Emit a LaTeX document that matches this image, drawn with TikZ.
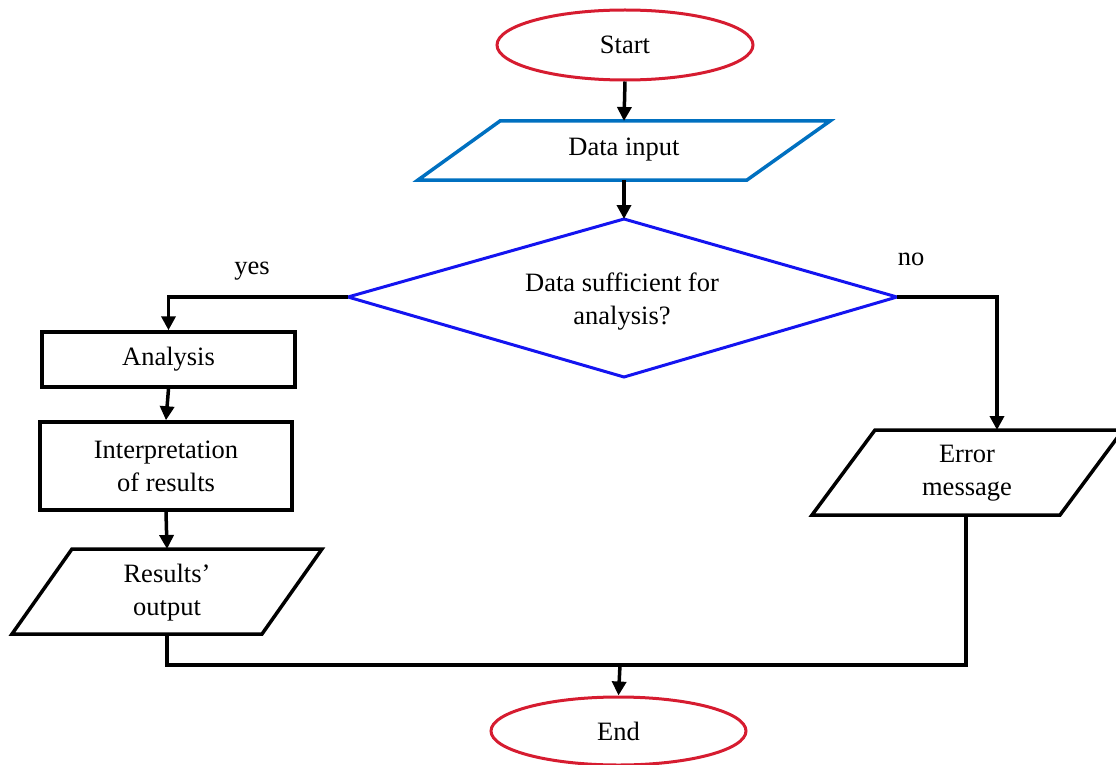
\documentclass[tikz,border=0pt]{standalone}
\usepackage{fontspec}
\setmainfont{Liberation Serif}
\usetikzlibrary{shapes.geometric,arrows.meta}
\definecolor{termred}{RGB}{214,28,48}
\definecolor{inblue}{RGB}{0,112,192}
\definecolor{decblue}{RGB}{20,20,240}
\begin{document}
\begin{tikzpicture}[x=1pt,y=-1pt,
  txt/.style={font=\fontsize{26.5}{33}\selectfont, align=center, inner sep=0pt},
  term/.style={ellipse, draw=termred, line width=3pt, txt},
  proc/.style={rectangle, draw=black, line width=3.5pt, txt},
  conn/.style={line width=3.5pt, line join=miter, -{Triangle[length=14pt,width=14pt]}},
  plainline/.style={line width=3.5pt, line join=miter},
  outline/.style={line width=3.5pt, line join=miter}
]
\useasboundingbox (0,0) rectangle (1116,765);

% Start / End
\node[term, minimum width=256pt, minimum height=70pt] (start) at (625,45) {Start};
\node[term, minimum width=255pt, minimum height=68pt] (end) at (618.5,731) {End};

% Data input parallelogram
\draw[outline, draw=inblue] (500,121) -- (830,121) -- (747,180) -- (418,180) -- cycle;
\node[txt] (din) at (624,150) {Data input};
\coordinate (din-top) at (624,121);
\coordinate (din-bot) at (624,180);

% Decision diamond
\draw[outline, draw=decblue, line width=3pt] (624,219) -- (897,297) -- (624,377) -- (348,297) -- cycle;
\node[txt] (dec) at (622,302) {Data sufficient for\\analysis?};
\coordinate (dec-top) at (624,219);
\coordinate (dec-left) at (348,297);
\coordinate (dec-right) at (897,297);

% Process boxes
\node[proc, minimum width=253pt, minimum height=55pt] (analysis) at (168.5,359.5) {Analysis};
\node[proc, minimum width=252pt, minimum height=88pt] (interp) at (166,466) {Interpretation\\of results};

% Results' output parallelogram
\draw[outline] (72,549) -- (322,549) -- (262,634) -- (12,634) -- cycle;
\node[txt] (res) at (167,593) {Results’\\output};
\coordinate (res-top) at (167,549);
\coordinate (res-bot) at (167,634);

% Error message parallelogram
\draw[outline] (875,430) -- (1123,430) -- (1060,515) -- (812,515) -- cycle;
\node[txt] (err) at (967,473) {Error\\message};
\coordinate (err-top) at (997,430);
\coordinate (err-bot) at (966,515);

% Labels
\node[txt] (yes) at (252,271) {yes};
\node[txt] (no) at (911,259) {no};

% Join points
\coordinate (joinL) at (167,665);
\coordinate (joinR) at (966,665);
\coordinate (joinM) at (620,665);

% Connectors
\draw[conn] (start.south) -- (din-top);
\draw[conn] (din-bot) -- (dec-top);
\draw[conn] (dec-left) -| (analysis.north);
\draw[conn] (dec-right) -| (err-top);
\draw[conn] (analysis.south) -- (interp.north);
\draw[conn] (interp.south) -- (res-top);
\draw[plainline] (res-bot) -- (joinL) -- (joinR) -- (err-bot);
\draw[conn] (joinM) -- (end.north);
\end{tikzpicture}
\end{document}
